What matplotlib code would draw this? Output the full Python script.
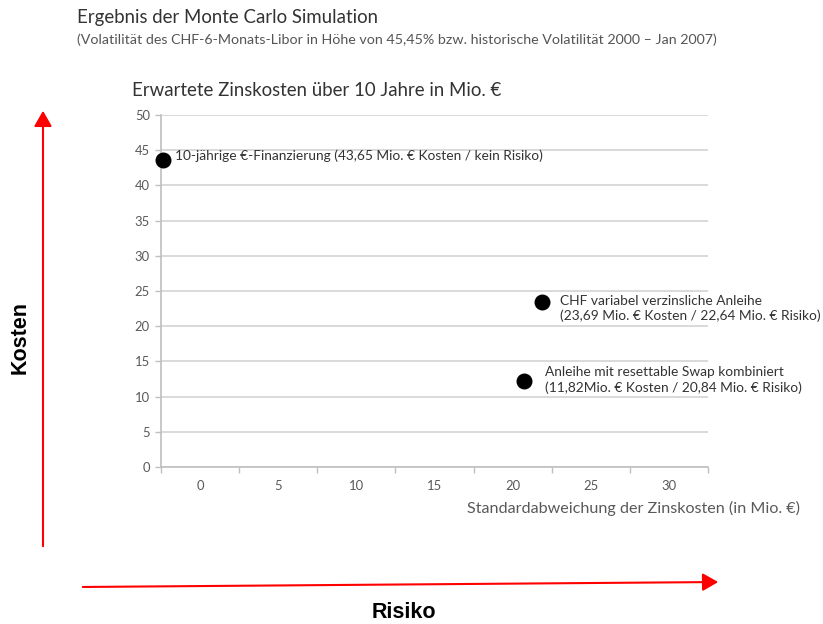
import matplotlib
matplotlib.use("Agg")
import matplotlib.pyplot as plt
from matplotlib.patches import FancyArrowPatch

# Werte
risiko = [-2.4, 21.9, 20.7]
kosten = [43.65, 23.4, 12.2]
beschriftung = [
    "10-jährige €-Finanzierung (43,65 Mio. € Kosten / kein Risiko)",
    "CHF variabel verzinsliche Anleihe\n(23,69 Mio. € Kosten / 22,64 Mio. € Risiko)",
    "Anleihe mit resettable Swap kombiniert\n(11,82Mio. € Kosten / 20,84 Mio. € Risiko)",
]
x_ticks = [0, 5, 10, 15, 20, 25, 30]
y_ticks = [0, 5, 10, 15, 20, 25, 30, 35, 40, 45, 50]

plt.rcParams['font.family'] = ['Lato', 'DejaVu Sans']
textfarbe = "#333333"
grau = "#595959"

fig = plt.figure(figsize=(8.23, 6.24), dpi=100)
ax = fig.add_axes([0.1956, 0.2516, 0.6647, 0.5641])

ax.scatter(risiko, kosten, s=110, color="black", zorder=3, clip_on=False)

# Beschriftungen neben den Punkten
ax.text(risiko[0] + 0.8, kosten[0] + 0.6, beschriftung[0], fontsize=9.9,
        color=textfarbe, va="center", ha="left", clip_on=False)
ax.text(risiko[1] + 1.1, kosten[1] - 0.9, beschriftung[1], fontsize=9.9,
        color=textfarbe, va="center", ha="left", linespacing=1.3, clip_on=False)
ax.text(risiko[2] + 1.4, kosten[2] + 0.2, beschriftung[2], fontsize=9.9,
        color=textfarbe, va="center", ha="left", linespacing=1.3, clip_on=False)

ax.set_xlim(-2.5, 32.5)
ax.set_ylim(0, 50)
ax.set_xticks([t - 2.5 for t in x_ticks] + [32.5])
ax.set_xticklabels([])
ax.set_xticks(x_ticks, minor=True)
ax.set_xticklabels([str(t) for t in x_ticks], minor=True)
ax.tick_params(axis="x", which="minor", length=0, pad=9, labelsize=9.4, labelcolor=grau)
ax.tick_params(axis="x", which="major", length=4, width=1, color="#bfbfbf", direction="out")
ax.set_yticks(y_ticks)
ax.tick_params(axis="y", length=4, width=1, color="#bfbfbf", labelsize=9.4,
               labelcolor=grau, pad=4)

ax.grid(axis="y", color="#d9d9d9", linewidth=1.4)
ax.set_axisbelow(True)
for side in ["top", "right"]:
    ax.spines[side].set_visible(False)
for side in ["left", "bottom"]:
    ax.spines[side].set_color("#bfbfbf")
    ax.spines[side].set_linewidth(1.2)

# Titel
fig.text(77 / 823, 1 - 18 / 624, "Ergebnis der Monte Carlo Simulation", fontsize=13.4,
         color=textfarbe, va="center", ha="left")
fig.text(77 / 823, 1 - 40 / 624,
         "(Volatilität des CHF-6-Monats-Libor in Höhe von 45,45% bzw. historische Volatilität 2000 – Jan 2007)",
         fontsize=10.3, color="#555555", va="center", ha="left")
fig.text(132 / 823, 1 - 90 / 624, "Erwartete Zinskosten über 10 Jahre in Mio. €", fontsize=13.4,
         color=textfarbe, va="center", ha="left")
fig.text(800 / 823, 1 - 508 / 624, "Standardabweichung der Zinskosten (in Mio. €)", fontsize=11.6,
         color=grau, va="center", ha="right")

# rote Pfeile
pfeil_y = FancyArrowPatch((43 / 823, 1 - 549 / 624), (43 / 823, 1 - 108 / 624),
                          transform=fig.transFigure, arrowstyle="-|>,head_length=7,head_width=4",
                          mutation_scale=1.35, color="red", linewidth=1.5)
pfeil_x = FancyArrowPatch((80 / 823, 1 - 587 / 624), (721 / 823, 1 - 582 / 624),
                          transform=fig.transFigure, arrowstyle="-|>,head_length=7,head_width=4",
                          mutation_scale=1.35, color="red", linewidth=1.5)
fig.add_artist(pfeil_y)
fig.add_artist(pfeil_x)

fig.text(20 / 823, 1 - 337 / 624, "Kosten", fontsize=15.5, fontweight="bold", rotation=90,
         family=["Liberation Sans", "DejaVu Sans"], color="black", va="center", ha="center")
fig.text(404 / 823, 1 - 613 / 624, "Risiko", fontsize=15.5, fontweight="bold",
         family=["Liberation Sans", "DejaVu Sans"], color="black", va="center", ha="center")

fig.savefig("out.png", dpi=100, facecolor="white")
